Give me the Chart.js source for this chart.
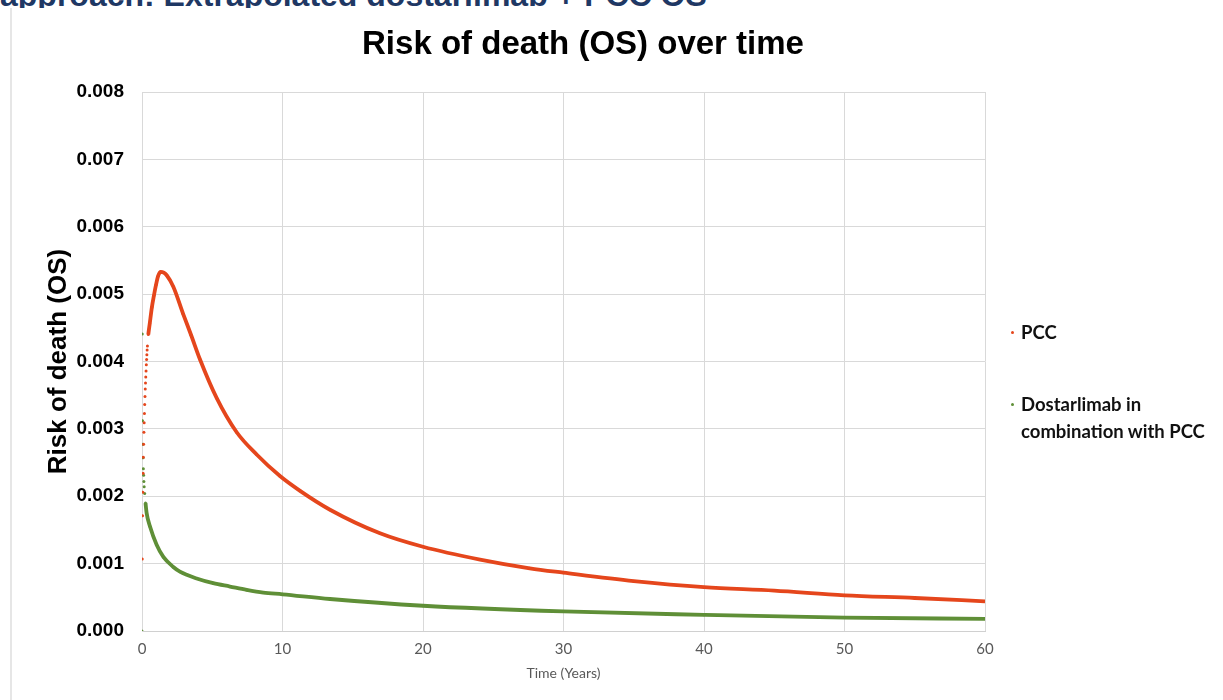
<!DOCTYPE html>
<html>
<head>
<meta charset="utf-8">
<script src="https://cdn.jsdelivr.net/npm/chart.js@4.4.0/dist/chart.umd.min.js"></script>
<style>
  body { margin: 0; background: #fff; }
  #wrap { position: relative; width: 1223px; height: 700px; overflow: hidden; }
  #head { position: absolute; left: 0; top: 0; width: 900px; height: 8px; overflow: hidden; }
  #head span { position: absolute; left: 0; top: -23px; line-height: 37px; white-space: nowrap;
    font: bold 32px "Liberation Sans", Arial, sans-serif; color: #1f3864; }
  #frame { position: absolute; left: 10px; top: 8px; width: 2px; height: 692px; background: #e6e6e6; }
  #title { position: absolute; left: 0; top: 24px; width: 1166px; text-align: center; line-height: 38px;
    font: bold 33px "Liberation Sans", Arial, sans-serif; color: #000; }
  #chart { position: absolute; left: 0; top: 0; }
  #legend { position: absolute; left: 1007px; top: 319px; width: 210px;
    font: bold 18.5px Lato, "Open Sans", sans-serif; color: #111; line-height: 27px; }
  .item { position: relative; padding-left: 14px; margin-bottom: 45px; }
  .dot { position: absolute; left: 4px; top: 12px; width: 3px; height: 3px; border-radius: 50%; }
</style>
</head>
<body>
<div id="wrap">
  <div id="head"><span>approach: Extrapolated dostarlimab + PCC OS</span></div>
  <div id="frame"></div>
  <canvas id="chart" width="1223" height="700"></canvas>
  <div id="title">Risk of death (OS) over time</div>
  <div id="legend"></div>
</div>
<script>
// time in years, risk of death per cycle
const pccTime = [0.019, 0.038, 0.058, 0.077, 0.096, 0.115, 0.135, 0.154, 0.173, 0.192,
  0.212, 0.231, 0.25, 0.269, 0.288, 0.308, 0.327, 0.346, 0.365, 0.385,
  0.45, 0.55, 0.7, 0.85, 1.0, 1.15, 1.33, 1.55, 1.76, 2.23, 2.94, 3.5, 4.13, 5.31,
  6.74, 8.16, 9.82, 11.25, 13.38, 16.94, 20, 24.06, 27.6, 30, 35, 40, 45, 50, 55, 60];
const pccRisk = [0.00107, 0.00171, 0.00206, 0.00234, 0.00258, 0.00277, 0.00295, 0.00309, 0.00323, 0.00336,
  0.00348, 0.00359, 0.00368, 0.00377, 0.00386, 0.00395, 0.00403, 0.00410, 0.00417, 0.00423,
  0.00440, 0.00456, 0.00480, 0.00498, 0.00514, 0.00527, 0.00533, 0.00532, 0.00528, 0.00511, 0.00470, 0.00439, 0.00403, 0.00346,
  0.00295, 0.00262, 0.00230, 0.00208, 0.00180, 0.00145, 0.00125, 0.00106, 0.00093, 0.000865, 0.00074, 0.00065, 0.00060, 0.00053, 0.00049, 0.00044];

const dosTime = [0, 0.019, 0.038, 0.058, 0.077, 0.096, 0.115, 0.135, 0.154, 0.19,
  0.25, 0.33, 0.57, 1.04, 1.52, 2.23, 2.70, 3.89, 5.07, 6.26, 7.45, 8.63, 10,
  13.38, 20, 30, 40, 50, 60];
const dosRisk = [0, 0.00441, 0.00312, 0.00277, 0.00257, 0.00241, 0.00231, 0.00222, 0.00214, 0.00204,
  0.00190, 0.00175, 0.00155, 0.00128, 0.00110, 0.00095, 0.00088, 0.00078, 0.00071, 0.00066, 0.00061, 0.00057, 0.000545,
  0.000475, 0.000375, 0.00029, 0.00024, 0.00020, 0.00018];

const seriesNames = ['PCC', 'Dostarlimab in combination with PCC'];
const seriesColors = ['#e5461c', '#5f8f37'];
const xTicks = [0, 10, 20, 30, 40, 50, 60];
const yTicks = [0, 0.001, 0.002, 0.003, 0.004, 0.005, 0.006, 0.007, 0.008];

function points(xs, ys) {
  return xs.map((x, i) => ({ x: x, y: ys[i] }));
}

// the first weekly values sit almost on top of each other: show them as dots only
const gapSegment = {
  borderColor: ctx => Math.abs(ctx.p1.x - ctx.p0.x) < 1 ? 'rgba(0,0,0,0)' : undefined
};

function series(i, data) {
  return {
    label: seriesNames[i],
    data: data,
    borderColor: seriesColors[i],
    backgroundColor: seriesColors[i],
    borderWidth: 3.8,
    pointRadius: 1.5,
    pointBorderWidth: 0,
    pointHoverRadius: 0,
    cubicInterpolationMode: 'monotone',
    segment: gapSegment
  };
}

const chart = new Chart(document.getElementById('chart'), {
  type: 'line',
  data: {
    datasets: [
      series(0, points(pccTime, pccRisk)),
      series(1, points(dosTime, dosRisk))
    ]
  },
  options: {
    responsive: false,
    animation: false,
    layout: { padding: { left: 0, right: 238, top: 92, bottom: 0 } },
    plugins: { legend: { display: false }, tooltip: { enabled: false } },
    scales: {
      x: {
        type: 'linear',
        min: xTicks[0],
        max: xTicks[xTicks.length - 1],
        afterFit: s => { s.height = 69; },
        afterBuildTicks: s => { s.ticks = xTicks.map(v => ({ value: v })); },
        grid: { color: '#d9d9d9', drawTicks: false },
        border: { color: '#d0d0d0' },
        ticks: { padding: 9, color: '#595959', font: { family: 'Lato', size: 15 } },
        title: {
          display: true, text: 'Time (Years)', color: '#595959',
          font: { family: 'Lato', size: 14 }, padding: { top: 0, bottom: 18 }
        }
      },
      y: {
        min: yTicks[0],
        max: yTicks[yTicks.length - 1],
        afterFit: s => { s.width = 142; },
        afterBuildTicks: s => { s.ticks = yTicks.map(v => ({ value: v })); },
        grid: { color: '#d9d9d9', drawTicks: false },
        border: { color: '#d9d9d9' },
        ticks: {
          padding: 18, color: '#000',
          font: { family: 'Liberation Sans', size: 19, weight: 'bold' },
          callback: v => v.toFixed(3)
        },
        title: {
          display: true, text: 'Risk of death (OS)', color: '#000',
          font: { family: 'Liberation Sans', size: 26, weight: 'bold' },
          padding: { top: 43, bottom: 0 }
        }
      }
    }
  }
});

// legend built from the chart's datasets, wrapping long names
const legend = document.getElementById('legend');
chart.data.datasets.forEach(ds => {
  const item = document.createElement('div');
  item.className = 'item';
  const dot = document.createElement('span');
  dot.className = 'dot';
  dot.style.background = ds.borderColor;
  item.appendChild(dot);
  item.appendChild(document.createTextNode(ds.label));
  legend.appendChild(item);
});
</script>
</body>
</html>
